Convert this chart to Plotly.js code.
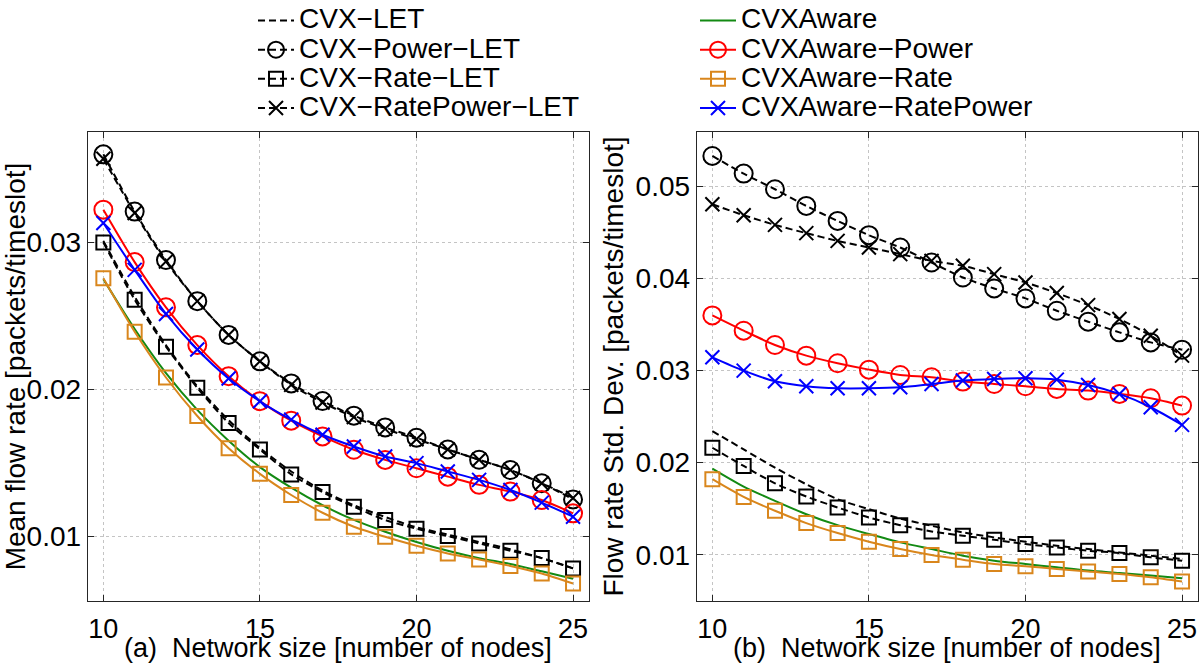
<!DOCTYPE html>
<html>
<head>
<meta charset="utf-8">
<script src="https://cdn.plot.ly/plotly-3.0.1.min.js"></script>
<style>html,body{margin:0;padding:0;background:#fff;}#chart{width:1200px;height:665px;}</style>
</head>
<body>
<div id="chart"></div>
<script>
// ---------------- data ----------------
const nodes = [10,11,12,13,14,15,16,17,18,19,20,21,22,23,24,25];
const xTicks = [10,15,20,25];
const yTicksMean = [0.01,0.02,0.03];
const yTickTextMean = ["0.01","0.02","0.03"];
const yTicksStd = [0.01,0.02,0.03,0.04,0.05];
const yTickTextStd = ["0.01","0.02","0.03","0.04","0.05"];
const xTitleA = "(a)\u00a0 Network size [number of nodes]";
const xTitleB = "(b)\u00a0 Network size [number of nodes]";
const yTitleA = "Mean flow rate [packets/timeslot]";
const yTitleB = "Flow rate Std. Dev. [packets/timeslot]";

const seriesNames = ["CVX\u2212LET","CVX\u2212Power\u2212LET","CVX\u2212Rate\u2212LET","CVX\u2212RatePower\u2212LET",
                     "CVXAware","CVXAware\u2212Power","CVXAware\u2212Rate","CVXAware\u2212RatePower"];

// (a) Mean flow rate [packets/timeslot]
const meanCvxLet          = [0.0301,0.0263,0.0230,0.0202,0.0179,0.0160,0.0144,0.0131,0.0121,0.0113,0.0106,0.0101,0.0096,0.0091,0.0085,0.0078];
const meanCvxPowerLet     = [0.0360,0.0321,0.0288,0.0260,0.0237,0.0219,0.0204,0.0192,0.0182,0.0174,0.0167,0.0159,0.0152,0.0145,0.0136,0.0125];
const meanCvxRateLet      = [0.0300,0.0261,0.0229,0.0201,0.0177,0.0159,0.0142,0.0130,0.0120,0.0111,0.0105,0.0100,0.0095,0.0090,0.0085,0.0078];
const meanCvxRatePowerLet = [0.0357,0.0320,0.0287,0.0260,0.0237,0.0219,0.0203,0.0191,0.0181,0.0173,0.0166,0.0159,0.0152,0.0145,0.0136,0.0126];
const meanAware           = [0.0275,0.0241,0.0211,0.0186,0.0165,0.0147,0.0133,0.0121,0.0111,0.0103,0.0096,0.0090,0.0085,0.0081,0.0076,0.0071];
const meanAwarePower      = [0.03223,0.02866,0.02558,0.02301,0.02089,0.01919,0.01786,0.01679,0.01588,0.01519,0.01462,0.01405,0.01349,0.01303,0.01246,0.01155];
const meanAwareRate       = [0.02756,0.02392,0.02080,0.01818,0.01599,0.01424,0.01280,0.01159,0.01064,0.00995,0.00934,0.00882,0.00841,0.00797,0.00745,0.00677];
const meanAwareRatePower  = [0.03132,0.02813,0.02513,0.02271,0.02073,0.01918,0.01793,0.01690,0.01610,0.01542,0.01497,0.01440,0.01383,0.01314,0.01228,0.01132];

// (b) Flow rate Std. Dev. [packets/timeslot]
const stdCvxLet           = [0.02343,0.02144,0.01946,0.01765,0.01603,0.01495,0.01393,0.01314,0.01242,0.01188,0.01141,0.01097,0.01061,0.01025,0.00989,0.00953];
const stdCvxPowerLet      = [0.05333,0.05141,0.04971,0.04790,0.04627,0.04472,0.04338,0.04175,0.04012,0.03893,0.03785,0.03651,0.03532,0.03416,0.03307,0.03228];
const stdCvxRateLet       = [0.02162,0.01964,0.01776,0.01632,0.01513,0.01404,0.01321,0.01253,0.01206,0.01162,0.01116,0.01079,0.01043,0.01018,0.00971,0.00935];
const stdCvxRatePowerLet  = [0.04808,0.04689,0.04584,0.04494,0.04410,0.04338,0.04266,0.04193,0.04139,0.04049,0.03958,0.03843,0.03712,0.03561,0.03380,0.03163];
const stdAware            = [0.01935,0.01740,0.01585,0.01440,0.01321,0.01224,0.01134,0.01061,0.00989,0.00935,0.00899,0.00863,0.00827,0.00801,0.00773,0.00744];
const stdAwarePower       = [0.03600,0.03434,0.03279,0.03163,0.03080,0.03011,0.02953,0.02928,0.02881,0.02855,0.02830,0.02801,0.02783,0.02747,0.02700,0.02620];
const stdAwareRate        = [0.01820,0.01628,0.01477,0.01343,0.01235,0.01141,0.01061,0.00996,0.00946,0.00899,0.00874,0.00845,0.00816,0.00790,0.00755,0.00708];
const stdAwareRatePower   = [0.03145,0.03000,0.02884,0.02830,0.02808,0.02808,0.02819,0.02855,0.02892,0.02910,0.02917,0.02902,0.02844,0.02747,0.02602,0.02411];

// ---------------- styles ----------------
const FONT = "Liberation Sans, Arial, Helvetica, sans-serif";
const FS = 28;
const FSX = 27;
const DASH = "7px,4px";
const styles = [
  {color:"#000000", dash:DASH,   symbol:null,          size:0,  legend:"legend"},
  {color:"#000000", dash:DASH,   symbol:"circle-open", size:18, legend:"legend"},
  {color:"#000000", dash:DASH,   symbol:"square-open", size:14, legend:"legend"},
  {color:"#000000", dash:DASH,   symbol:"x-thin-open", size:14, legend:"legend"},
  {color:"#138a13", dash:"solid",symbol:null,          size:0,  legend:"legend2"},
  {color:"#ff0000", dash:"solid",symbol:"circle-open", size:18, legend:"legend2"},
  {color:"#d9861c", dash:"solid",symbol:"square-open", size:14, legend:"legend2"},
  {color:"#0000ff", dash:"solid",symbol:"x-thin-open", size:14, legend:"legend2"}
];
const meanSeries = [meanCvxLet,meanCvxPowerLet,meanCvxRateLet,meanCvxRatePowerLet,meanAware,meanAwarePower,meanAwareRate,meanAwareRatePower];
const stdSeries  = [stdCvxLet,stdCvxPowerLet,stdCvxRateLet,stdCvxRatePowerLet,stdAware,stdAwarePower,stdAwareRate,stdAwareRatePower];

function makeTrace(i, ys, xa, ya, showLegend){
  const s = styles[i];
  const t = {
    type:"scatter", x:nodes, y:ys, xaxis:xa, yaxis:ya,
    name:'<span style="font-size:'+FS+'px">'+seriesNames[i]+'</span>',
    legend:s.legend, showlegend:showLegend, hoverinfo:"x+y",
    line:{color:s.color, width:2, dash:s.dash, shape:"spline", smoothing:0.8},
    mode: s.symbol ? "lines+markers" : "lines"
  };
  if (s.symbol) t.marker = {symbol:s.symbol, size:s.size, color:s.color, line:{color:s.color, width:2}};
  return t;
}
const traces = [];
for (let i=0;i<8;i++) traces.push(makeTrace(i, meanSeries[i], "x", "y", true));
for (let i=0;i<8;i++) traces.push(makeTrace(i, stdSeries[i], "x2", "y2", false));

const W = 1200, H = 665;
const axisCommon = {
  showline:true, linecolor:"#262626", linewidth:1, mirror:"ticks",
  ticks:"inside", ticklen:6, tickcolor:"#262626", tickwidth:1,
  showgrid:true, gridcolor:"#c4c4c4", griddash:"dot", gridwidth:1,
  zeroline:false, automargin:false,
  tickfont:{family:FONT, size:FS, color:"#000"}
};
const xTickFont = {family:FONT, size:FSX, color:"#000"};
const dA = [87.7/W, 588.7/W], dB = [696.7/W, 1197.7/W], dY = [1-600.7/H, 1-132.3/H];
const layout = {
  width:W, height:H, margin:{l:0,r:0,t:0,b:0},
  paper_bgcolor:"#fff", plot_bgcolor:"#fff",
  font:{family:FONT, color:"#000"},
  showlegend:true,
  xaxis:Object.assign({}, axisCommon, {domain:dA, range:[9.5,25.5], tickvals:xTicks, anchor:"y", ticklabelstandoff:4, tickfont:xTickFont}),
  yaxis:Object.assign({}, axisCommon, {domain:dY, range:[0.0056,0.0375], tickvals:yTicksMean, ticktext:yTickTextMean, anchor:"x",
    title:{text:yTitleA, font:{family:FONT,size:FS,color:"#000"}, standoff:3}}),
  xaxis2:Object.assign({}, axisCommon, {domain:dB, range:[9.5,25.5], tickvals:xTicks, anchor:"y2", ticklabelstandoff:4, tickfont:xTickFont}),
  yaxis2:Object.assign({}, axisCommon, {domain:dY, range:[0.005,0.0559], tickvals:yTicksStd, ticktext:yTickTextStd, anchor:"x2",
    title:{text:yTitleB, font:{family:FONT,size:FS,color:"#000"}, standoff:3}}),
  annotations:[
    {text:xTitleA, xref:"paper", yref:"paper", x:(dA[0]+dA[1])/2, y:1-648/H, xanchor:"center", yanchor:"middle", showarrow:false,
     font:{family:FONT,size:FSX,color:"#000"}},
    {text:xTitleB, xref:"paper", yref:"paper", x:(dB[0]+dB[1])/2, y:1-648/H, xanchor:"center", yanchor:"middle", showarrow:false,
     font:{family:FONT,size:FSX,color:"#000"}}
  ],
  legend:{x:253/W, y:1-1/H, xanchor:"left", yanchor:"top", bgcolor:"rgba(0,0,0,0)", borderwidth:0,
    font:{family:FONT, size:20.1, color:"#000"}, itemwidth:36, tracegroupgap:0, traceorder:"normal", itemclick:false},
  legend2:{x:695/W, y:1-1/H, xanchor:"left", yanchor:"top", bgcolor:"rgba(0,0,0,0)", borderwidth:0,
    font:{family:FONT, size:20.1, color:"#000"}, itemwidth:36, tracegroupgap:0, traceorder:"normal", itemclick:false}
};
Plotly.newPlot("chart", traces, layout, {displayModeBar:false, staticPlot:true});
</script>
</body>
</html>
